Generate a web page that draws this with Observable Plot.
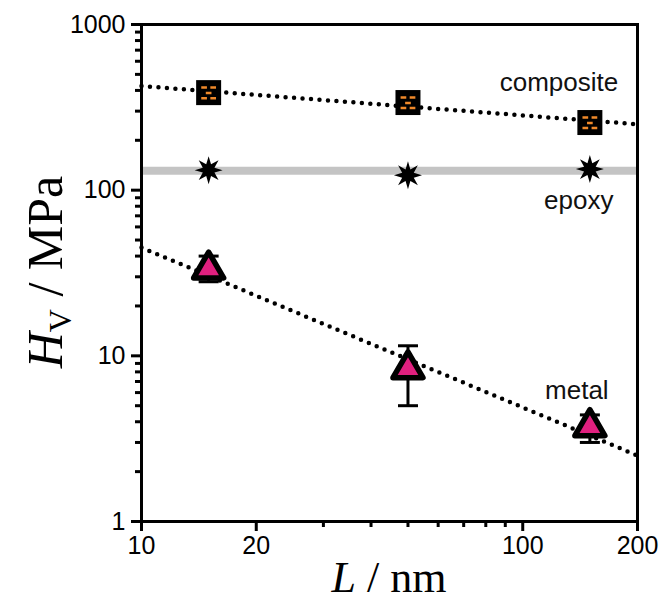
<!DOCTYPE html>
<html><head><meta charset="utf-8">
<script src="https://cdn.jsdelivr.net/npm/d3@7"></script>
<script src="https://cdn.jsdelivr.net/npm/@observablehq/plot@0.6"></script>
<style>body{margin:0;background:#fff}</style>
</head><body><div id="chart"></div>
<script>
// ---- data ----
const L = [15, 50, 150];
const compositeH = [388, 338, 256];
const compositeLo = [372, 324, 247];
const compositeHi = [404, 352, 265];
const epoxyH = [132, 123, 134];
const metalH = [34, 8.5, 3.8];
const metalLo = [28, 5.0, 3.0];
const metalHi = [40, 11.5, 4.4];
const fitL = [10, 200];
const compositeFitH = [425, 250];
const metalFitH = [45, 2.5];
const epoxyMean = 131;
const xTicks = [10, 20, 100, 200];
const xMinor = [30, 40, 50, 60, 70, 80, 90];
const yTicks = [1, 10, 100, 1000];
const yMinor = [2,3,4,5,6,7,8,9,20,30,40,50,60,70,80,90,200,300,400,500,600,700,800,900];
const seriesLabels = ["composite", "epoxy", "metal"];
const labelL = [178, 173, 168];
const labelH = [447, 86.6, 6.18];

// ---- custom symbols ----
const rad = s => Math.sqrt(s / Math.PI);
const hbar = {draw(ctx, size){ const w = rad(size); ctx.moveTo(-w, 0); ctx.lineTo(w, 0); }};
const square = {draw(ctx, size){ const w = rad(size); ctx.rect(-w, -w, 2*w, 2*w); }};
const dashes = {draw(ctx, size){ const k = rad(size) / 11;
  [[-6.5,-5.5],[1.5,-5.5],[-2.5,-0.8],[-6.5,3.8],[1.5,3.8]].forEach(([x,y]) => ctx.rect(x*k, y*k, 5*k, 2.2*k)); }};
const tri = {draw(ctx, size){ const w = rad(size);
  ctx.moveTo(0, -1.05*w); ctx.lineTo(w, 0.68*w); ctx.lineTo(-w, 0.68*w); ctx.closePath(); }};
const star8 = {draw(ctx, size){ const R = rad(size), r = R*0.45;
  for (let i = 0; i < 16; i++) { const a = i*Math.PI/8 - Math.PI/2, rr = i % 2 ? r : R;
    const x = rr*Math.cos(a), y = rr*Math.sin(a); i ? ctx.lineTo(x, y) : ctx.moveTo(x, y); }
  ctx.closePath(); }};

const idx = d3.range(L.length);
const fitIdx = d3.range(fitL.length);
const lineOpts = {stroke: "black", strokeWidth: 4.5, strokeDasharray: "0 8.5", strokeLinecap: "round"};

const plot = Plot.plot({
  width: 670, height: 607,
  marginLeft: 141, marginRight: 33, marginTop: 24, marginBottom: 86,
  x: {type: "log", domain: [10, 200]},
  y: {type: "log", domain: [1, 1000]},
  style: {fontFamily: "Arial, 'Liberation Sans', sans-serif", fontSize: "24px", color: "black", background: "white"},
  marks: [
    Plot.ruleY([epoxyMean], {stroke: "#c4c4c4", strokeWidth: 8}),
    Plot.line(fitIdx, {x: i => fitL[i], y: i => compositeFitH[i], ...lineOpts}),
    Plot.line(fitIdx, {x: i => fitL[i], y: i => metalFitH[i], ...lineOpts}),
    // error bars
    Plot.ruleX(idx, {x: i => L[i], y1: i => metalLo[i], y2: i => metalHi[i], strokeWidth: 3}),
    Plot.dot(idx, {x: i => L[i], y: i => metalLo[i], symbol: hbar, r: 10, stroke: "black", strokeWidth: 3}),
    Plot.dot(idx, {x: i => L[i], y: i => metalHi[i], symbol: hbar, r: 10, stroke: "black", strokeWidth: 3}),
    Plot.ruleX(idx, {x: i => L[i], y1: i => compositeLo[i], y2: i => compositeHi[i], strokeWidth: 2.5}),
    // markers
    Plot.dot(idx, {x: i => L[i], y: i => compositeH[i], symbol: square, r: 12.5, fill: "black"}),
    Plot.dot(idx, {x: i => L[i], y: i => compositeH[i], symbol: dashes, r: 12.5, fill: "#f0892a"}),
    Plot.dot(idx, {x: i => L[i], y: i => epoxyH[i], symbol: star8, r: 14, fill: "black"}),
    Plot.dot(idx, {x: i => L[i], y: i => metalH[i], symbol: tri, r: 15, fill: "#e0207f", stroke: "black", strokeWidth: 5.5, strokeLinejoin: "round"}),
    // labels
    Plot.text(idx, {x: i => labelL[i], y: i => labelH[i], text: i => seriesLabels[i], textAnchor: "end", fontSize: 26, fill: "#111"}),
    // axes
    Plot.axisX({ticks: xTicks, tickFormat: d => String(d), tickSize: 10, tickPadding: 5, strokeWidth: 3, fontSize: 25, label: null}),
    Plot.axisX({ticks: xMinor, tickFormat: () => "", tickSize: 6, strokeWidth: 3, label: null}),
    Plot.axisY({ticks: yTicks, tickFormat: d => String(d), tickSize: 10, tickPadding: 6, strokeWidth: 3, fontSize: 25, label: null}),
    Plot.axisY({ticks: yMinor, tickFormat: () => "", tickSize: 6, strokeWidth: 3, label: null}),
    Plot.frame({stroke: "black", strokeWidth: 3})
  ]
});

const svg = d3.select(plot);
const serif = "'Times New Roman', 'Liberation Serif', serif";
const xt = svg.append("text").attr("x", 389).attr("y", 592).attr("text-anchor", "middle")
  .attr("font-family", serif).attr("font-size", 44).attr("fill", "black");
xt.append("tspan").attr("font-style", "italic").text("L");
xt.append("tspan").text(" / nm");
const yt = svg.append("text").attr("transform", "translate(62,272) rotate(-90)").attr("text-anchor", "middle")
  .attr("font-family", serif).attr("font-size", 50).attr("fill", "black");
yt.append("tspan").attr("font-style", "italic").text("H");
yt.append("tspan").attr("font-size", 32).attr("dy", 9).text("V");
yt.append("tspan").attr("dy", -9).text(" / MPa");

document.getElementById("chart").appendChild(plot);
</script>
</body></html>
